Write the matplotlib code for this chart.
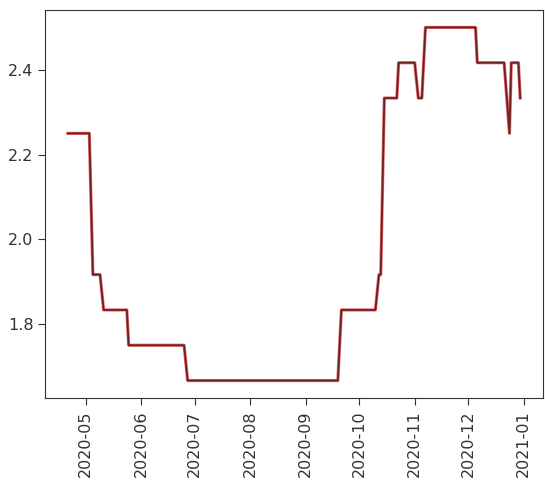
"""Step-like price history, Apr 2020 - Jan 2021."""

import matplotlib

matplotlib.use("Agg")
import matplotlib.dates as mdates
import matplotlib.pyplot as plt
import pandas as pd

# Breakpoints of the series (date, value); each level change is one day long
dates = [
    "2020-04-21", "2020-05-03", "2020-05-05", "2020-05-09", "2020-05-11",
    "2020-05-24", "2020-05-25", "2020-06-25", "2020-06-27", "2020-09-19",
    "2020-09-21", "2020-10-10", "2020-10-12", "2020-10-13", "2020-10-15",
    "2020-10-22", "2020-10-23", "2020-11-01", "2020-11-03", "2020-11-05",
    "2020-11-07", "2020-12-05", "2020-12-06", "2020-12-21", "2020-12-24",
    "2020-12-25", "2020-12-29", "2020-12-30",
]
values = [
    2.25, 2.25, 1.9167, 1.9167, 1.8333,
    1.8333, 1.75, 1.75, 1.6667, 1.6667,
    1.8333, 1.8333, 1.9167, 1.9167, 2.3333,
    2.3333, 2.4167, 2.4167, 2.3333, 2.3333,
    2.5, 2.5, 2.4167, 2.4167, 2.25,
    2.4167, 2.4167, 2.3333,
]

COLORS = {
    "halo": "#d9383a",
    "line": "#6e1f22",
    "axis": "#333333",
}

df = pd.DataFrame({"date": pd.to_datetime(dates), "value": values})

fig = plt.figure(figsize=(5.45, 4.88), dpi=100)
ax = fig.add_axes([0.083, 0.184, 0.913, 0.796])

ax.plot(df["date"], df["value"], color=COLORS["halo"], linewidth=2.3, alpha=0.75)
ax.plot(df["date"], df["value"], color=COLORS["line"], linewidth=1.3)

ax.set_yticks([1.8, 2.0, 2.2, 2.4])
ax.xaxis.set_major_locator(mdates.MonthLocator())
ax.xaxis.set_major_formatter(mdates.DateFormatter("%Y-%m"))
plt.setp(ax.xaxis.get_majorticklabels(), rotation=90)

ax.tick_params(labelsize=11.5, colors=COLORS["axis"], length=5)
for spine in ax.spines.values():
    spine.set_color(COLORS["axis"])

fig.savefig("out.png", dpi=100, facecolor="white")
plt.close(fig)
